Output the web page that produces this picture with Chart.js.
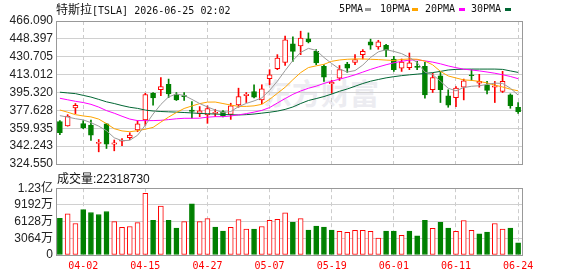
<!DOCTYPE html>
<html>
<head>
<meta charset="utf-8">
<script src="https://cdn.jsdelivr.net/npm/chart.js@4.4.1/dist/chart.umd.min.js"></script>
<style>
  html, body { margin: 0; padding: 0; background: #fff; }
  #wrap { position: relative; width: 578px; height: 276px; overflow: hidden; background: #fff; color: #111; }
  canvas { position: absolute; left: 0; z-index: 1; }
  #price { top: 0; }
  #vol { top: 178px; }
  .t { position: absolute; white-space: nowrap; z-index: 2; }
  .cjk { font-family: "Noto Sans CJK SC", sans-serif; font-size: 12px; }
  .mono { font-family: "DejaVu Sans Mono", monospace; font-size: 10px; }
  .dash { position: absolute; top: 8px; width: 6px; height: 3px; z-index: 2; }
  #mark { position: absolute; left: 263px; top: 74px; z-index: 0; font-family: "Noto Sans CJK SC", sans-serif;
          font-weight: 700; font-size: 29px; line-height: 36px; color: #ececf1; letter-spacing: 0px; }
</style>
</head>
<body>
<div id="wrap">
  <div id="mark">东方财富</div>
  <canvas id="price" width="578" height="176"></canvas>
  <canvas id="vol" width="578" height="98"></canvas>

  <div class="t" style="left:56px;top:2px;line-height:14px;"><span class="cjk">特斯拉</span><span class="mono">[TSLA] 2026-06-25 02:02</span></div>

  <div class="t mono" style="left:339px;top:2px;line-height:14px;">5PMA</div>
  <div class="dash" style="left:365px;background:#9a9a9a;"></div>
  <div class="t mono" style="left:380px;top:2px;line-height:14px;">10PMA</div>
  <div class="dash" style="left:412px;background:#ffa500;"></div>
  <div class="t mono" style="left:425px;top:2px;line-height:14px;">20PMA</div>
  <div class="dash" style="left:459px;background:#ff00ff;"></div>
  <div class="t mono" style="left:471px;top:2px;line-height:14px;">30PMA</div>
  <div class="dash" style="left:505px;background:#006633;"></div>

  <div class="t" style="left:57px;top:171px;line-height:14px;"><span class="cjk">成交量</span><span style="font-family:'Liberation Sans',sans-serif;font-size:12px;">:22318730</span></div>
</div>

<script>
const dates = [
  "03-30", "03-31", "04-01", "04-02", "04-06", "04-07", "04-08", "04-09", "04-10", "04-13",
  "04-14", "04-15", "04-16", "04-17", "04-20", "04-21", "04-22", "04-23", "04-24", "04-27",
  "04-28", "04-29", "04-30", "05-01", "05-04", "05-05", "05-06", "05-07", "05-08", "05-11",
  "05-12", "05-13", "05-14", "05-15", "05-18", "05-19", "05-20", "05-21", "05-22", "05-26",
  "05-27", "05-28", "05-29", "06-01", "06-02", "06-03", "06-04", "06-05", "06-08", "06-09",
  "06-10", "06-11", "06-12", "06-15", "06-16", "06-17", "06-18", "06-22", "06-23", "06-24"
];
// which dates get a label and a dashed grid line
const labelIdx = [3, 11, 19, 27, 35, 43, 51, 59];

const opens = [
  366.5, 362.2, 380.1, 364.5, 363.0, 345.0, 364.2, 344.3, 347.1, 350.5,
  358.2, 368.2, 394.6, 398.0, 403.3, 393.3, 392.3, 378.0, 374.7, 373.1,
  374.7, 376.4, 373.7, 383.1, 392.3, 396.3, 388.0, 409.0, 418.9, 425.1,
  443.4, 441.4, 448.4, 436.1, 421.2, 404.0, 409.6, 423.5, 425.2, 432.8,
  445.4, 440.4, 442.1, 428.5, 419.5, 420.0, 421.2, 421.2, 398.0, 411.9,
  392.0, 390.3, 400.6, 412.9, 404.6, 403.0, 400.6, 396.3, 393.0, 380.7
];
const highs = [
  367.5, 373.4, 384.4, 367.5, 368.0, 348.8, 364.8, 348.3, 349.8, 355.5,
  367.4, 394.6, 395.3, 410.2, 408.6, 395.3, 395.3, 386.4, 381.4, 382.1,
  378.7, 377.4, 384.7, 399.6, 395.3, 403.0, 403.0, 417.9, 432.8, 451.1,
  450.4, 456.0, 454.3, 437.8, 422.9, 407.3, 422.0, 425.2, 432.8, 437.8,
  448.1, 447.0, 443.0, 431.1, 428.5, 434.4, 426.2, 425.2, 414.5, 415.2,
  398.0, 401.3, 408.6, 417.9, 413.3, 406.3, 406.3, 416.3, 394.0, 385.4
];
const lows = [
  353.5, 362.0, 374.4, 359.5, 348.0, 336.6, 339.9, 337.6, 342.6, 348.8,
  356.5, 362.8, 382.7, 392.3, 390.3, 387.4, 387.4, 370.0, 371.4, 364.8,
  371.4, 371.1, 368.7, 380.7, 385.4, 390.0, 384.1, 403.0, 417.9, 422.2,
  426.2, 432.8, 444.4, 422.9, 406.3, 394.6, 407.3, 415.2, 422.9, 428.5,
  438.1, 438.1, 430.7, 416.2, 416.2, 417.9, 417.9, 389.6, 395.3, 385.4,
  380.7, 381.4, 388.0, 407.3, 400.6, 394.0, 385.4, 395.3, 379.7, 374.7
];
const closes = [
  355.5, 372.1, 382.7, 360.5, 353.0, 345.5, 344.3, 345.5, 348.0, 353.2,
  364.2, 393.3, 390.0, 401.3, 394.0, 388.0, 391.3, 376.5, 377.1, 379.4,
  375.7, 372.4, 382.1, 391.3, 393.6, 390.6, 399.0, 412.9, 429.5, 447.4,
  436.1, 449.3, 445.4, 424.5, 410.5, 405.3, 418.0, 419.5, 427.9, 436.1,
  442.1, 445.4, 437.2, 417.9, 425.5, 424.8, 420.2, 393.0, 410.2, 398.0,
  382.7, 399.6, 406.9, 411.9, 406.3, 397.3, 402.0, 406.3, 382.4, 376.4
];

const ma5 = [
  372.4, 371.0, 369.4, 368.2, 365.5, 362.0, 357.5, 350.5, 347.6, 348.0,
  353.0, 363.0, 374.0, 383.5, 391.0, 393.8, 392.4, 388.5, 384.4, 381.0,
  378.0, 375.5, 376.5, 381.3, 384.5, 387.0, 390.0, 397.4, 406.5, 417.0,
  427.0, 435.0, 439.0, 437.0, 430.0, 424.0, 418.5, 415.6, 417.0, 422.5,
  430.0, 435.5, 437.7, 436.0, 433.8, 430.0, 425.0, 415.5, 413.0, 406.5,
  399.5, 397.0, 400.2, 401.5, 402.0, 403.3, 404.6, 404.3, 399.6, 392.8
];
const ma10 = [
  378.0, 375.8, 373.4, 372.1, 371.2, 369.0, 364.5, 359.5, 357.3, 356.5,
  357.5, 359.0, 360.8, 366.0, 371.0, 375.5, 379.5, 382.0, 384.3, 385.8,
  385.9, 384.4, 382.9, 381.6, 381.6, 382.1, 383.6, 388.5, 394.5, 400.5,
  408.0, 415.0, 420.0, 421.7, 423.2, 426.2, 427.5, 428.2, 428.5, 428.5,
  428.2, 427.9, 427.4, 427.0, 428.0, 428.5, 428.2, 426.4, 422.7, 416.2,
  411.7, 409.7, 407.8, 407.3, 406.3, 404.8, 402.6, 400.8, 398.6, 397.0
];
const ma20 = [
  389.6, 388.1, 386.6, 385.4, 383.6, 380.9, 377.4, 374.8, 371.8, 369.0,
  367.5, 367.5, 367.5, 367.8, 368.5, 369.3, 369.8, 369.8, 369.9, 370.9,
  371.4, 371.4, 372.1, 373.2, 374.4, 375.9, 377.6, 380.4, 384.9, 389.3,
  393.5, 396.8, 399.5, 401.6, 404.3, 406.5, 408.5, 410.5, 412.8, 415.5,
  418.2, 420.6, 422.8, 424.7, 426.2, 427.4, 427.7, 426.6, 425.4, 423.7,
  421.6, 419.9, 418.4, 417.6, 416.7, 415.6, 414.4, 412.9, 411.2, 409.0
];
const ma30 = [
  395.6, 394.9, 394.2, 392.5, 390.8, 388.5, 386.1, 384.4, 382.4, 380.7,
  379.6, 377.9, 377.0, 376.5, 376.2, 375.9, 375.5, 375.1, 374.6, 374.3,
  374.0, 373.6, 373.3, 373.1, 373.4, 374.0, 374.9, 375.8, 376.9, 378.6,
  381.0, 384.4, 387.4, 389.3, 391.3, 393.8, 396.5, 398.8, 401.5, 404.2,
  406.5, 408.2, 409.8, 411.0, 412.0, 412.8, 413.5, 414.2, 415.0, 416.2,
  417.6, 418.2, 418.4, 418.5, 418.5, 418.5, 418.5, 418.2, 416.7, 415.2
];

// volume in units of 万 shares
const volumes = [
  6724, 7557, 5772, 8330, 7795, 7438, 7973, 6129, 5058, 5236,
  5950, 11305, 6367, 8985, 6367, 4939, 6129, 9401, 6129, 6664,
  5117, 4403, 5058, 6486, 4760, 4760, 5236, 6367, 6545, 7735,
  6010, 6664, 4582, 5296, 5117, 4582, 4344, 4165, 4522, 4522,
  4344, 3094, 4403, 4403, 3630, 4403, 3511, 6367, 4879, 6010,
  4939, 4344, 6307, 4522, 3868, 4225, 5772, 4760, 4939, 2231.873
];

const priceTicks = [324.550, 342.243, 359.935, 377.628, 395.320, 413.012, 430.705, 448.397, 466.090];
const volTicks = [0, 3064, 6128, 9192, 12256];
const volTickLabels = ["0", "3064万", "6128万", "9192万", "1.23亿"];

const UP = "#ff0000";
const DOWN = "#008000";
const AXIS_FONT = { family: "'Liberation Sans', 'Noto Sans CJK SC', sans-serif", size: 12 };

const candleUp = closes.map((c, i) => c >= opens[i]);
const candleColor = candleUp.map((u) => (u ? UP : DOWN));
const bodyFill = candleUp.map((u) => (u ? "#ffffff" : DOWN));
const wicks = highs.map((h, i) => [lows[i], h]);
const bodies = closes.map((c, i) => [Math.min(opens[i], c), Math.max(opens[i], c)]);

// volume colour follows close vs previous close
const volUp = closes.map((c, i) => (i === 0 ? candleUp[0] : c >= closes[i - 1]));

// grey frame round the plot area
const frame = {
  id: "frame",
  afterDraw(chart) {
    const { ctx, chartArea: a } = chart;
    ctx.save();
    ctx.strokeStyle = "#999999";
    ctx.lineWidth = 1;
    ctx.strokeRect(Math.round(a.left) + 0.5, Math.round(a.top) + 0.5,
      Math.round(a.right - a.left), Math.round(a.bottom - a.top));
    ctx.restore();
  },
};

function xGridColor(c) {
  return labelIdx.includes(c.index) ? "#cccccc" : "rgba(0,0,0,0)";
}

function maLine(label, data, color) {
  return {
    label, data, type: "line",
    borderColor: color, borderWidth: 1,
    pointRadius: 0, tension: 0, order: 0,
  };
}

new Chart(document.getElementById("price"), {
  type: "bar",
  data: {
    labels: dates,
    datasets: [
      maLine("5PMA", ma5, "#9a9a9a"),
      maLine("10PMA", ma10, "#ffa500"),
      maLine("20PMA", ma20, "#ff00ff"),
      maLine("30PMA", ma30, "#006633"),
      {
        label: "Wick", data: wicks, backgroundColor: candleColor,
        borderWidth: 0, barThickness: 1, grouped: false, order: 3,
      },
      {
        label: "Body", data: bodies, backgroundColor: bodyFill, borderColor: candleColor,
        borderWidth: 1, borderSkipped: false, barThickness: 5, minBarLength: 1,
        grouped: false, order: 2,
      },
    ],
  },
  options: {
    responsive: false,
    animation: false,
    events: [],
    layout: { padding: { top: 21, right: 56, left: 0, bottom: 0 } },
    plugins: { legend: { display: false }, tooltip: { enabled: false } },
    scales: {
      x: {
        offset: true,
        grid: { offset: false, color: xGridColor, drawTicks: false },
        border: { display: false, dash: [4, 3] },
        ticks: { display: false },
        afterFit(s) { s.height = 12; },
      },
      y: {
        min: 324.55,
        max: 466.09,
        afterBuildTicks(s) { s.ticks = priceTicks.map((v) => ({ value: v })); },
        ticks: { autoSkip: false, callback: (v) => Number(v).toFixed(3), padding: 3, color: "#222", font: AXIS_FONT },
        grid: { color: "#d0d0d0", drawTicks: false },
        border: { display: false },
        afterFit(s) { s.width = 56; },
      },
    },
  },
  plugins: [frame],
});

new Chart(document.getElementById("vol"), {
  type: "bar",
  data: {
    labels: dates,
    datasets: [
      {
        label: "Volume", data: volumes,
        backgroundColor: volUp.map((u) => (u ? "#ffffff" : DOWN)),
        borderColor: volUp.map((u) => (u ? UP : DOWN)),
        borderWidth: 1, borderSkipped: false, barThickness: 5,
      },
    ],
  },
  options: {
    responsive: false,
    animation: false,
    events: [],
    layout: { padding: { top: 9, right: 56, left: 0, bottom: 0 } },
    plugins: { legend: { display: false }, tooltip: { enabled: false } },
    scales: {
      x: {
        offset: true,
        grid: { offset: false, color: xGridColor, drawTicks: false },
        border: { display: false, dash: [4, 3] },
        ticks: {
          autoSkip: false, maxRotation: 0, minRotation: 0, padding: 5, color: "#ff0000",
          font: { family: "'DejaVu Sans Mono', monospace", size: 10 },
          callback: (v, i) => (labelIdx.includes(i) ? dates[i] : ""),
        },
        afterFit(s) { s.height = 21; },
      },
      y: {
        min: 0,
        max: 12256,
        afterBuildTicks(s) { s.ticks = volTicks.map((v) => ({ value: v })); },
        ticks: { autoSkip: false, callback: (v, i) => volTickLabels[i], padding: 3, color: "#222", font: AXIS_FONT },
        grid: { color: "#d0d0d0", drawTicks: false },
        border: { display: false },
        afterFit(s) { s.width = 56; },
      },
    },
  },
  plugins: [frame],
});
</script>
</body>
</html>
